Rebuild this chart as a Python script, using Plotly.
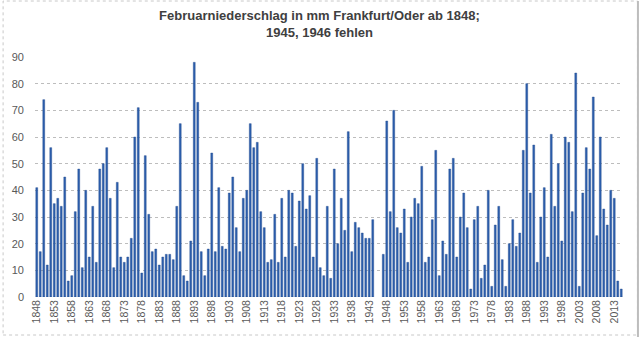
import plotly.graph_objects as go

# February precipitation (mm), Frankfurt (Oder), 1848-2015; 1945 and 1946 have no data
years = list(range(1848, 2016))
precip_mm = [
    41, 17, 74, 12, 56, 35, 37, 34, 45, 6,      # 1848-1857
    8, 32, 48, 11, 40, 15, 34, 13, 48, 50,      # 1858-1867
    56, 37, 11, 43, 15, 13, 15, 22, 60, 71,     # 1868-1877
    9, 53, 31, 17, 18, 12, 15, 16, 16, 14,      # 1878-1887
    34, 65, 8, 6, 21, 88, 73, 17, 8, 18,        # 1888-1897
    54, 17, 41, 19, 18, 39, 45, 26, 17, 37,     # 1898-1907
    40, 65, 56, 58, 32, 26, 13, 14, 31, 13,     # 1908-1917
    37, 15, 40, 39, 19, 36, 50, 33, 38, 15,     # 1918-1927
    52, 11, 8, 34, 7, 48, 20, 37, 25, 62,       # 1928-1937
    17, 28, 26, 24, 22, 22, 29, None, None, 16,  # 1938-1947
    66, 32, 70, 26, 24, 33, 13, 30, 37, 35,     # 1948-1957
    49, 13, 15, 29, 55, 8, 21, 16, 48, 52,      # 1958-1967
    15, 30, 39, 26, 3, 29, 34, 7, 12, 40,       # 1968-1977
    4, 27, 34, 14, 4, 20, 29, 19, 24, 55,       # 1978-1987
    80, 39, 57, 13, 30, 41, 15, 61, 34, 50,     # 1988-1997
    21, 60, 58, 32, 84, 4, 39, 56, 48, 75,      # 1998-2007
    23, 60, 33, 27, 40, 37, 6, 3,               # 2008-2015
]
tick_years = list(range(1848, 2016, 5))

categories = [str(y) for y in years]
tick_labels = [str(y) for y in tick_years]

W, H = 639, 338
m_l, m_r, m_t, m_b = 33, 16, 57, 41
pw, ph = W - m_l - m_r, H - m_t - m_b

fig = go.Figure(
    go.Bar(
        x=categories,
        y=precip_mm,
        marker=dict(color="#2C5FAD", line=dict(color="#1F478C", width=0.4)),
        hoverinfo="x+y",
    )
)

def px_x(p):
    return (p - m_l) / pw

def px_y(p):
    return (H - m_b - p) / ph

grey_font = dict(family="Liberation Sans, Arial, sans-serif", size=11, color="#595959")

fig.update_layout(
    width=W,
    height=H,
    margin=dict(l=m_l, r=m_r, t=m_t, b=m_b),
    paper_bgcolor="white",
    plot_bgcolor="white",
    bargap=0.45,
    showlegend=False,
    title=dict(
        text="Februarniederschlag in mm Frankfurt/Oder ab 1848;<br>1945, 1946 fehlen",
        x=0.5,
        xanchor="center",
        xref="container",
        yref="container",
        y=1 - 20 / H,
        yanchor="top",
        font=dict(family="Liberation Sans, Arial, sans-serif", size=13, color="#404040", weight="bold"),
    ),
    xaxis=dict(
        type="category",
        categoryorder="array",
        categoryarray=categories,
        tickmode="array",
        tickvals=tick_labels,
        ticktext=tick_labels,
        tickangle=-90,
        tickfont=dict(family="Liberation Sans, Arial, sans-serif", size=10.5, color="#595959"),
        showgrid=False,
        showline=False,
        ticks="",
        range=[-0.5, len(categories) - 0.5],
    ),
    yaxis=dict(
        range=[0, 90],
        tickvals=list(range(0, 100, 10)),
        tickfont=grey_font,
        showgrid=True,
        gridcolor="#BDBDBD",
        griddash="dot",
        gridwidth=1,
        zeroline=False,
        showline=False,
        ticks="",
        ticklabelstandoff=10,
    ),
    shapes=[
        dict(
            type="rect", xref="paper", yref="paper",
            x0=px_x(1), x1=px_x(637.5), y0=px_y(335), y1=px_y(1),
            line=dict(color="#C8C8C8", width=1, dash="dot"),
            fillcolor="rgba(0,0,0,0)", layer="below",
        ),
        dict(
            type="line", xref="paper", yref="paper",
            x0=px_x(638), x1=px_x(638), y0=px_y(337), y1=px_y(1),
            line=dict(color="#BDBDBD", width=2),
        ),
    ],
)

fig.write_html("out.html")
